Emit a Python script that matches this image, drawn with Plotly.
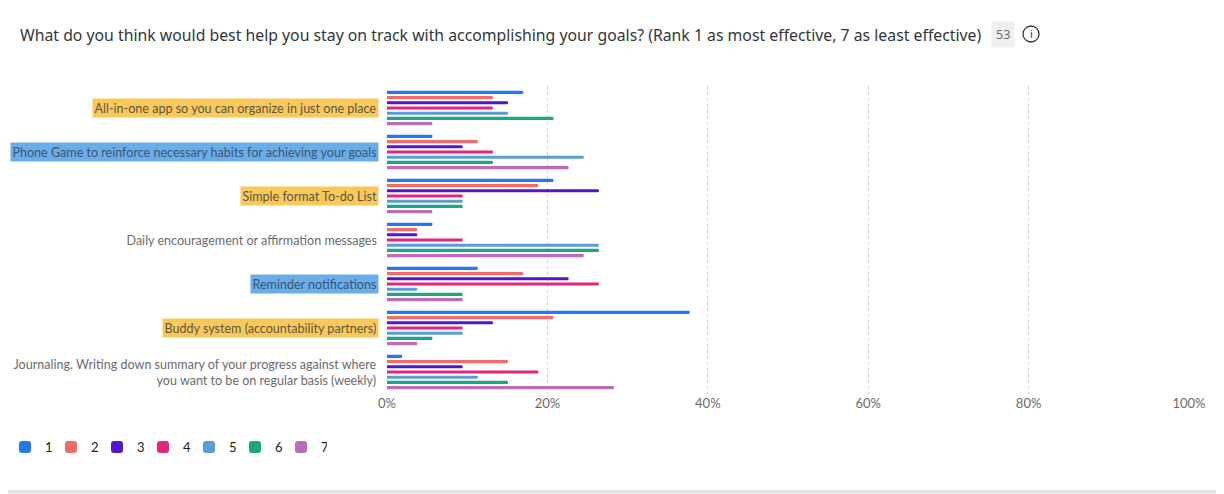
import plotly.graph_objects as go

# answer options (top to bottom)
options = [
    "All-in-one app so you can organize in just one place",
    "Phone Game to reinforce necessary habits for achieving your goals",
    "Simple format To-do List",
    "Daily encouragement or affirmation messages",
    "Reminder notifications",
    "Buddy system (accountability partners)",
    "Journaling. Writing down summary of your progress against where<br>you want to be on regular basis (weekly)",
]
ranks = ["1", "2", "3", "4", "5", "6", "7"]

# share of respondents (%) giving each rank, per option (n = 53)
rank_1 = [16.98, 5.66, 20.75, 5.66, 11.32, 37.74, 1.89]
rank_2 = [13.21, 11.32, 18.87, 3.77, 16.98, 20.75, 15.09]
rank_3 = [15.09, 9.43, 26.42, 3.77, 22.64, 13.21, 9.43]
rank_4 = [13.21, 13.21, 9.43, 9.43, 26.42, 9.43, 18.87]
rank_5 = [15.09, 24.53, 9.43, 26.42, 3.77, 9.43, 11.32]
rank_6 = [20.75, 13.21, 9.43, 26.42, 9.43, 5.66, 15.09]
rank_7 = [5.66, 22.64, 5.66, 24.53, 9.43, 3.77, 28.30]
responses = "53"

tick_vals = [0, 20, 40, 60, 80, 100]
tick_text = ["0%", "20%", "40%", "60%", "80%", "100%"]

series = [rank_1, rank_2, rank_3, rank_4, rank_5, rank_6, rank_7]
colors = ["#2478f2", "#f06b6b", "#5217c6", "#e0287f", "#5c9ad8", "#19a784", "#bb6bbb"]

# label highlight colours (None = plain)
highlights = ["#f8c95a", "#6aaee9", "#f8c95a", None, "#6aaee9", "#f8c95a", None]
hl_text = {"#f8c95a": "#5e5641", "#6aaee9": "#3d5573", None: "#6b6b6b"}

fig = go.Figure()
for name, vals, col in zip(ranks, series, colors):
    fig.add_trace(go.Bar(
        y=options,
        x=vals,
        name=name,
        orientation="h",
        marker=dict(color=col, cornerradius=2, line=dict(width=0)),
    ))

# category labels drawn as annotations so they can carry a highlight
for opt, hl in zip(options, highlights):
    fig.add_annotation(
        x=0, xref="paper", y=opt, yref="y",
        text=opt, showarrow=False, xanchor="right", align="right",
        xshift=-8,
        font=dict(family="Lato", size=12.55, color=hl_text[hl]),
        bgcolor=hl if hl else "rgba(0,0,0,0)",
        borderpad=1.5,
    )

# response count badge and info icon next to the title
fig.add_annotation(
    x=0.7675, xref="paper", y=1.1656, yref="paper",
    xanchor="center", yanchor="middle",
    text=responses, showarrow=False,
    font=dict(family="Noto Sans", size=12.5, color="#6b6b6b"),
    bgcolor="#efefef", borderpad=4,
)
fig.add_shape(
    type="circle", xref="paper", yref="paper",
    x0=0.793, x1=0.813, y0=1.1429, y1=1.1948,
    line=dict(color="#32363a", width=1.3),
)
fig.add_annotation(
    x=0.803, xref="paper", y=1.169, yref="paper",
    xanchor="center", yanchor="middle",
    text="i", showarrow=False,
    font=dict(family="Noto Sans", size=11, color="#32363a"),
)
# grey strips at the bottom and right edge of the card
fig.add_shape(
    type="rect", xref="paper", yref="paper",
    x0=-0.4825, x1=1.0436, y0=-0.3247, y1=-0.3117,
    line=dict(width=0), fillcolor="#e6e6e6",
)
fig.add_shape(
    type="rect", xref="paper", yref="paper",
    x0=1.0387, x1=1.0411, y0=-0.3247, y1=1.26,
    line=dict(width=0), fillcolor="#e6e6e6",
)

# page body has an 8px margin, so the figure is 8px smaller each way
fig.update_layout(
    width=1216,
    height=486,
    paper_bgcolor="white",
    plot_bgcolor="white",
    margin=dict(l=379, r=35, t=78, b=100, autoexpand=False),
    barmode="group",
    bargap=0.17,
    bargroupgap=0.4,
    title=dict(
        text="What do you think would best help you stay on track with accomplishing your goals? (Rank 1 as most effective, 7 as least effective)",
        x=0.00987, xanchor="left", xref="container",
        y=0.9444, yanchor="middle", yref="container",
        font=dict(family="Noto Sans", size=15.8, color="#32363a"),
    ),
    xaxis=dict(
        range=[0, 100],
        tickmode="array",
        tickvals=tick_vals,
        ticktext=tick_text,
        showgrid=True,
        gridcolor="#cfcfcf",
        griddash="dot",
        gridwidth=1.3,
        zeroline=False,
        showline=False,
        ticks="",
        tickfont=dict(family="Lato", size=13, color="#6b6b6b"),
        fixedrange=True,
    ),
    yaxis=dict(
        autorange="reversed",
        showticklabels=False,
        showgrid=False,
        zeroline=False,
        ticks="",
        fixedrange=True,
    ),
    legend=dict(
        orientation="h",
        x=-0.4763, xanchor="left",
        y=-0.172, yanchor="middle",
        font=dict(family="Lato", size=13, color="#222222"),
        itemwidth=30,
        entrywidth=1,
        traceorder="normal",
    ),
    showlegend=True,
)

fig.write_html("out.html")
